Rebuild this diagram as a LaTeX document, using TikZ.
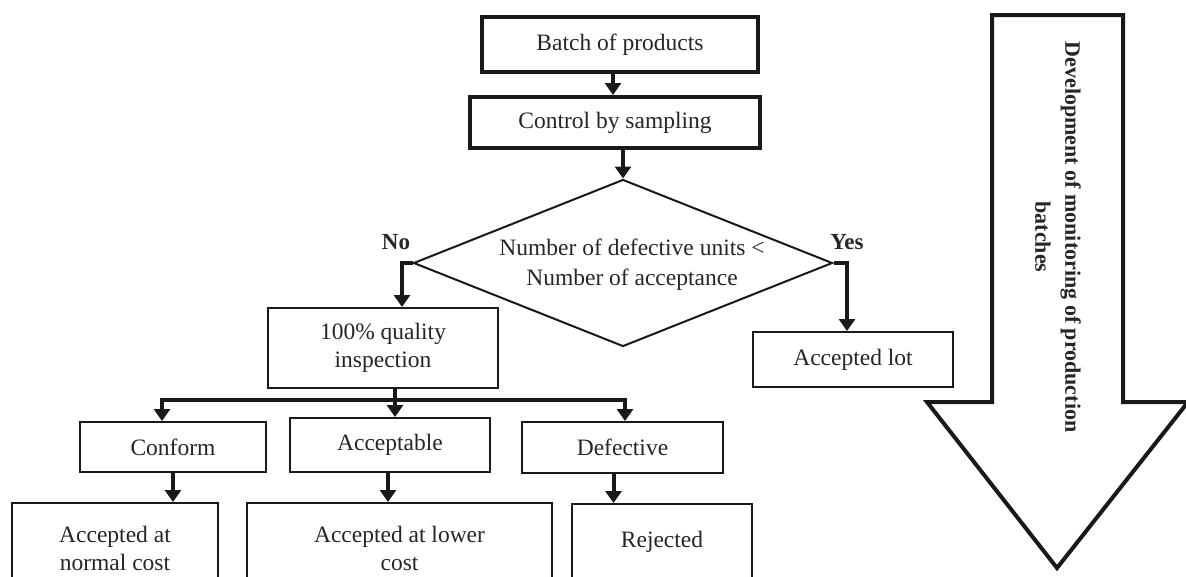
\documentclass[tikz,border=0pt]{standalone}
\usepackage{fontspec}
\setmainfont{Liberation Serif}
\usetikzlibrary{arrows.meta,shapes.geometric}
\tikzset{
  txt/.style={font=\fontsize{23.5}{28}\selectfont, text=black!85, align=center},
  box/.style={txt, draw=black!90, line width=2pt, fill=white, inner sep=0pt},
  tbox/.style={box, line width=4pt},
  arr/.style={draw=black!90, line width=4pt, -{Triangle[width=16pt,length=12pt]}},
  lbl/.style={font=\bfseries\fontsize{23}{26}\selectfont, text=black!85},
}
\begin{document}
\begin{tikzpicture}[x=1pt,y=-1pt]
\useasboundingbox (0,0) rectangle (1186,576);
\clip (0,0) rectangle (1186,576);
% top boxes
\node[tbox, minimum width=276pt, minimum height=55pt] (batch) at (620,44.5) {Batch of products};
\node[tbox, minimum width=290pt, minimum height=51pt] (ctrl) at (615,122.5) {Control by sampling};
% decision
\node[diamond, draw=black!90, line width=2pt, minimum width=419pt, minimum height=167pt, inner sep=0pt] (dec) at (623,263) {};
\node[txt, font=\fontsize{23.5}{30}\selectfont] (dectxt) at (632,265) {Number of defective units \textless\\Number of acceptance};
\node[lbl] (no) at (396,242) {No};
\node[lbl] (yes) at (847,242) {Yes};
% second level
\node[box, minimum width=230pt, minimum height=80pt] (qual) at (383,348) {100\% quality\\inspection};
\node[box, minimum width=200pt, minimum height=55pt] (lot) at (853,359.5) {Accepted lot};
% third level
\node[box, minimum width=186pt, minimum height=50pt] (conf) at (173,447) {Conform};
\node[box, minimum width=200pt, minimum height=54pt] (acc) at (390,445) {Acceptable};
\node[box, minimum width=201pt, minimum height=51pt] (def) at (622.5,447.5) {Defective};
% bottom boxes
\node[box, minimum width=206pt, minimum height=90pt] (norm) at (115,548) {Accepted at\\normal cost};
\node[box, minimum width=305pt, minimum height=90pt] (low) at (399.5,548) {Accepted at lower\\cost};
\node[box, minimum width=180pt, minimum height=76pt] (rej) at (662,542) {Rejected};
% connectors
\draw[arr] ([xshift=-7pt]batch.south) -- ([xshift=-7pt]batch.south |- ctrl.north);
\draw[arr] (dec.north |- ctrl.south) -- (dec.north);
\draw[arr] (dec.west) -| ([xshift=19pt]qual.north);
\draw[arr] (dec.east) -| ([xshift=-6pt]lot.north);
\coordinate (bus) at (395,400);
\draw[draw=black!90, line width=4pt] ([xshift=12pt]qual.south) -- (bus);
\draw[arr] (bus) -| ([xshift=-11pt]conf.north);
\draw[arr] (bus) -- ([xshift=5pt]acc.north);
\draw[arr] (bus) -| ([xshift=2.5pt]def.north);
\draw[arr] (conf.south) -- (conf.south |- norm.north);
\draw[arr] ([xshift=-2pt]acc.south) -- ([xshift=-2pt]acc.south |- low.north);
\draw[arr] ([xshift=-9pt]def.south) -- ([xshift=-9pt]def.south |- rej.north);
% big arrow
\draw[draw=black!90, line width=4pt, line join=miter, fill=white]
  (992,15) -- (1123,15) -- (1123,402) -- (1188,402) -- (1057,568) -- (927,402) -- (992,402) -- cycle;
\node[rotate=-90, align=center, text=black!85, font=\bfseries\fontsize{22}{30}\selectfont] (dev) at (1058,237)
  {Development of monitoring of production\\batches};
\end{tikzpicture}
\end{document}
